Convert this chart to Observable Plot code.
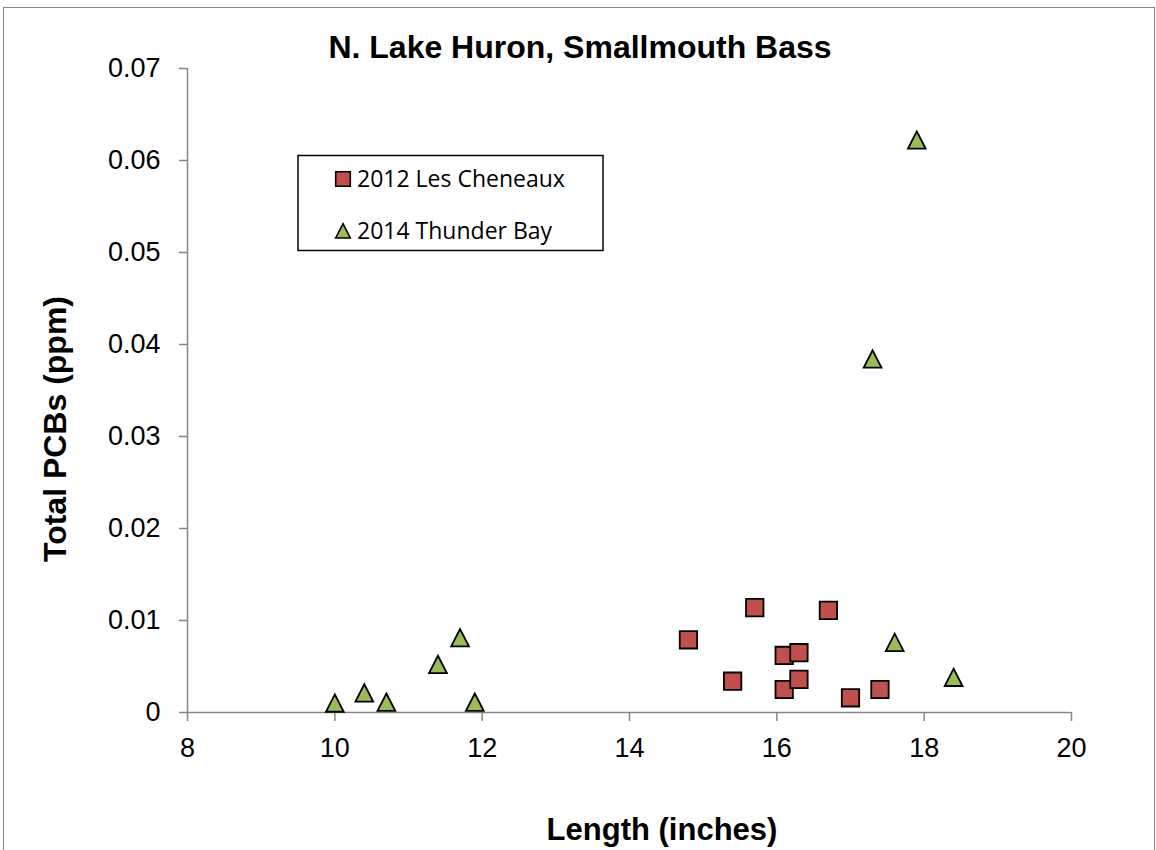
<!DOCTYPE html>
<html>
<head>
<meta charset="utf-8">
<script src="https://cdn.jsdelivr.net/npm/d3@7"></script>
<script src="https://cdn.jsdelivr.net/npm/@observablehq/plot@0.6"></script>
<style>
  body { margin: 0; background: #fff; }
  #wrap { position: relative; width: 1156px; height: 850px; overflow: hidden; background: #fff; }
  #border { position: absolute; left: 3px; top: 7px; width: 1152px; height: 900px; border: 1.2px solid #868686; box-sizing: border-box; }
  #chart { position: absolute; left: 0; top: 0; }
  #overlay { position: absolute; left: 0; top: 0; pointer-events: none; }
</style>
</head>
<body>
<div id="wrap">
  <div id="border"></div>
  <div id="chart"></div>
  <svg id="overlay" width="1156" height="850"></svg>
</div>
<script>
// ---- Data ----
const title = "N. Lake Huron, Smallmouth Bass";
const xLabel = "Length (inches)";
const yLabel = "Total PCBs (ppm)";
const seriesNames = ["2012 Les Cheneaux", "2014 Thunder Bay"];

const lengthsLC = [14.8, 15.4, 15.7, 16.1, 16.1, 16.7, 17.0, 17.4, 16.3, 16.3];
const pcbLC     = [0.0079, 0.0034, 0.0114, 0.0062, 0.0025, 0.0111, 0.0016, 0.0025, 0.0065, 0.0036];

const lengthsTB = [10.0, 10.4, 10.7, 11.4, 11.7, 11.9, 17.3, 17.6, 17.9, 18.4];
const pcbTB     = [0.0010, 0.0021, 0.0011, 0.0052, 0.0081, 0.0011, 0.0384, 0.0076, 0.0622, 0.0038];

const xTicks = [8, 10, 12, 14, 16, 18, 20];
const yTicks = [0, 0.01, 0.02, 0.03, 0.04, 0.05, 0.06, 0.07];

// ---- Build tables ----
const lc = lengthsLC.map((x, i) => ({length: x, pcb: pcbLC[i]}));
const tb = lengthsTB.map((x, i) => ({length: x, pcb: pcbTB[i]}));

const squareSym = {draw(ctx, size) {
  const r = Math.sqrt(size / Math.PI);
  ctx.moveTo(-r, -r); ctx.lineTo(r, -r); ctx.lineTo(r, r); ctx.lineTo(-r, r); ctx.closePath();
}};
const triSym = {draw(ctx, size) {
  const r = Math.sqrt(size / Math.PI);
  ctx.moveTo(0, -r); ctx.lineTo(r, r * 0.95); ctx.lineTo(-r, r * 0.95); ctx.closePath();
}};

const axisGray = "#868686";
const red = "#C0504D";
const green = "#9BBB59";

const chart = Plot.plot({
  width: 1156,
  height: 850,
  marginLeft: 187,
  marginRight: 85,
  marginTop: 68,
  marginBottom: 138,
  style: {fontSize: "27px", fontFamily: "'Liberation Sans', Arial, sans-serif", color: "black", background: "transparent"},
  x: {domain: [8, 20]},
  y: {domain: [0, 0.07]},
  marks: [
    Plot.ruleY([0], {stroke: axisGray, strokeWidth: 1.5}),
    Plot.ruleX([8], {stroke: axisGray, strokeWidth: 1.5}),
    Plot.axisX({ticks: xTicks, tickSize: 9, tickPadding: 16, stroke: axisGray, fill: "black", strokeWidth: 1.5, label: null, tickFormat: d3.format("~g")}),
    Plot.axisY({ticks: yTicks, tickSize: 8, tickPadding: 19, stroke: axisGray, fill: "black", strokeWidth: 1.5, label: null, tickFormat: d3.format("~g")}),
    Plot.dot(lc, {x: "length", y: "pcb", symbol: squareSym, r: 8.7, fill: red, stroke: "black", strokeWidth: 1.8}),
    Plot.dot(tb, {x: "length", y: "pcb", symbol: triSym, r: 8.9, fill: green, stroke: "black", strokeWidth: 1.8})
  ]
});
document.getElementById("chart").appendChild(chart);

// ---- Overlay: title, axis titles, legend ----
const ov = d3.select("#overlay");
const bold = "'Liberation Sans', Arial, sans-serif";
ov.append("text").attr("x", 580).attr("y", 58).attr("text-anchor", "middle")
  .attr("font-family", bold).attr("font-weight", "bold").attr("font-size", 32).text(title);
ov.append("text").attr("x", 662).attr("y", 840).attr("text-anchor", "middle")
  .attr("font-family", bold).attr("font-weight", "bold").attr("font-size", 31).text(xLabel);
ov.append("text").attr("transform", "translate(66,429) rotate(-90)").attr("text-anchor", "middle")
  .attr("font-family", bold).attr("font-weight", "bold").attr("font-size", 32).text(yLabel);

const lg = ov.append("g");
lg.append("rect").attr("x", 298).attr("y", 155.5).attr("width", 305).attr("height", 95)
  .attr("fill", "white").attr("stroke", "black").attr("stroke-width", 1.5);
const legendFont = "'Open Sans', 'Noto Sans', sans-serif";
// item 1
lg.append("path").attr("d", d3.symbol(squareSym, Math.PI * 7.3 * 7.3)()).attr("transform", "translate(343,179)")
  .attr("fill", red).attr("stroke", "black").attr("stroke-width", 1.6);
lg.append("text").attr("x", 357).attr("y", 187).attr("font-family", legendFont).attr("font-size", 23).text(seriesNames[0]);
// item 2
lg.append("path").attr("d", d3.symbol(triSym, Math.PI * 7.3 * 7.3)()).attr("transform", "translate(343,231)")
  .attr("fill", green).attr("stroke", "black").attr("stroke-width", 1.6);
lg.append("text").attr("x", 357).attr("y", 239).attr("font-family", legendFont).attr("font-size", 23).text(seriesNames[1]);
</script>
</body>
</html>
